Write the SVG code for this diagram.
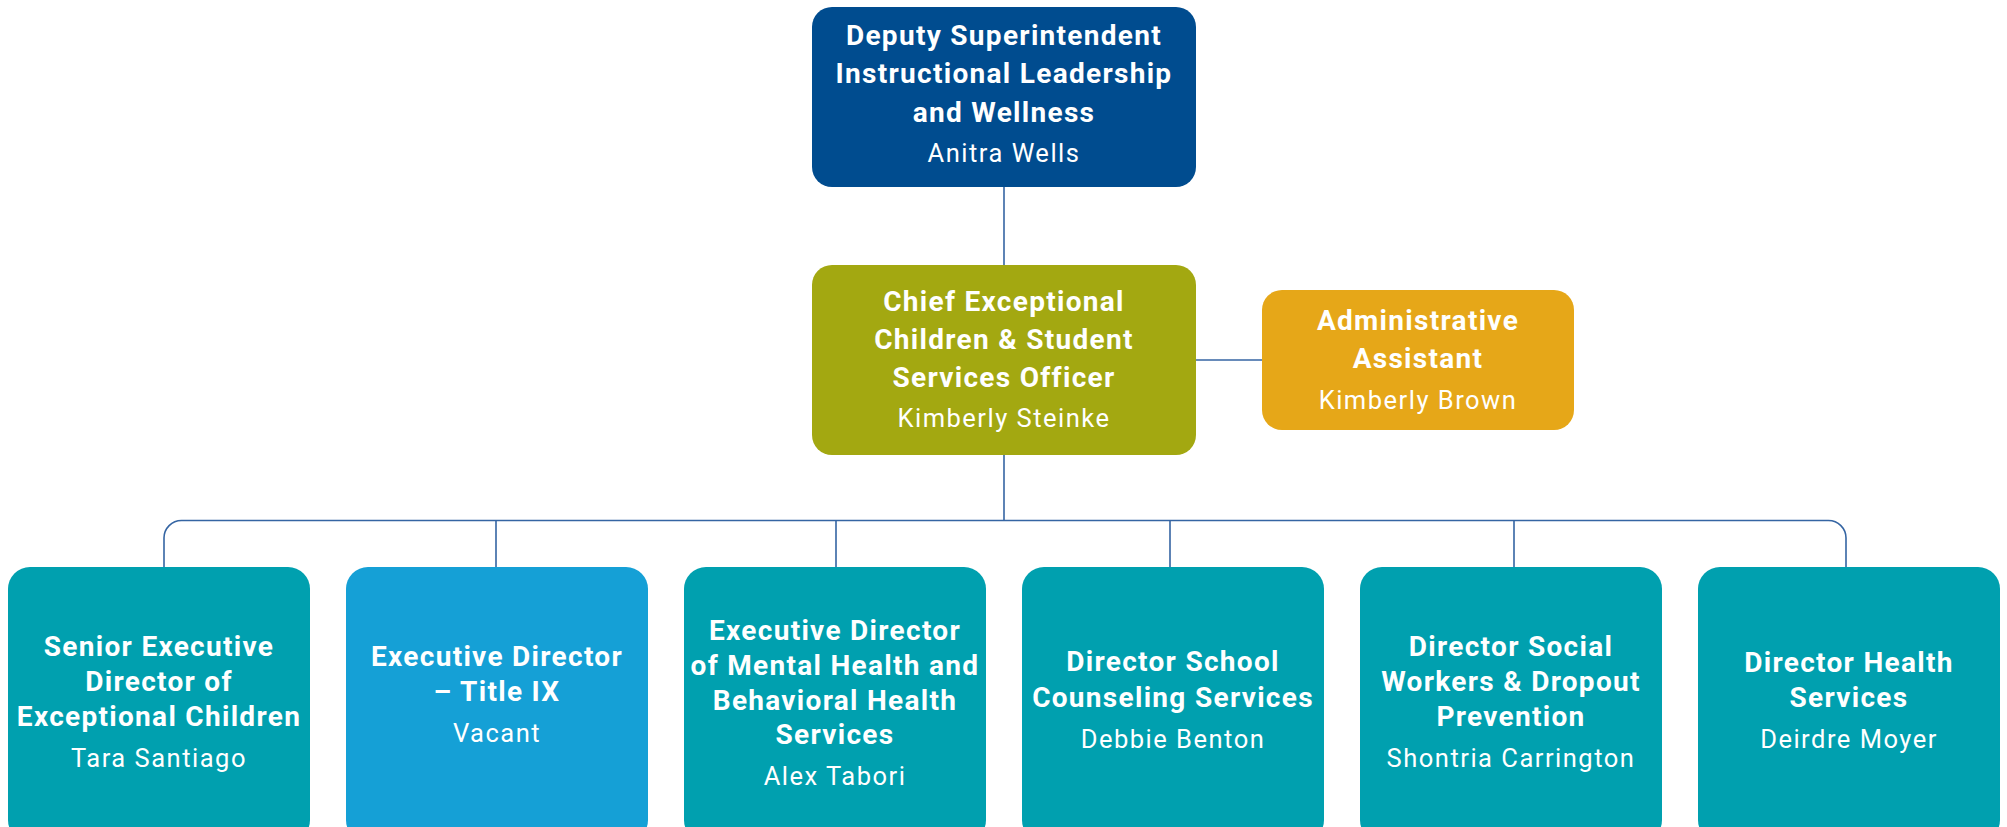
<svg xmlns="http://www.w3.org/2000/svg" width="2007" height="827" viewBox="0 0 2007 827">
<style>
.t{font-family:Roboto,"Liberation Sans",sans-serif;font-weight:700;font-size:28px;letter-spacing:1.3px;fill:#fff;text-anchor:middle}
.n{font-family:Roboto,"Liberation Sans",sans-serif;font-weight:400;font-size:25.5px;letter-spacing:1.5px;fill:#fff;text-anchor:middle}
.c{fill:none;stroke:#3565a3;stroke-width:1.6}
.teal{fill:#00a0af}
</style>
<rect width="2007" height="827" fill="#fff"/>
<g id="connectors">
<path class="c" d="M1004 187V265"/>
<path class="c" d="M1196 360H1262"/>
<path class="c" d="M1004 455V520.5"/>
<path class="c" d="M164 567V538A17.5 17.5 0 0 1 181.5 520.5H1828.5A17.5 17.5 0 0 1 1846 538V567"/>
<path class="c" d="M496 520.5V567M836 520.5V567M1170 520.5V567M1514 520.5V567"/>
</g>
<g id="deputy">
<rect x="812" y="7" width="384" height="180" rx="20" fill="#004c8f"/>
<text class="t" x="1004" y="45">Deputy Superintendent</text>
<text class="t" x="1004" y="83">Instructional Leadership</text>
<text class="t" x="1004" y="122">and Wellness</text>
<text class="n" x="1004" y="162">Anitra Wells</text>
</g>
<g id="chief">
<rect x="812" y="265" width="384" height="190" rx="20" fill="#a3a811"/>
<text class="t" x="1004" y="311">Chief Exceptional</text>
<text class="t" x="1004" y="349">Children &amp; Student</text>
<text class="t" x="1004" y="387">Services Officer</text>
<text class="n" x="1004" y="427">Kimberly Steinke</text>
</g>
<g id="admin">
<rect x="1262" y="290" width="312" height="140" rx="20" fill="#e6a718"/>
<text class="t" x="1418" y="330">Administrative</text>
<text class="t" x="1418" y="368">Assistant</text>
<text class="n" x="1418" y="409">Kimberly Brown</text>
</g>
<g id="senior-exec">
<rect class="teal" x="8" y="567" width="302" height="275" rx="22"/>
<text class="t" x="159" y="656">Senior Executive</text>
<text class="t" x="159" y="691">Director of</text>
<text class="t" x="159" y="726">Exceptional Children</text>
<text class="n" x="159" y="767">Tara Santiago</text>
</g>
<g id="title-ix">
<rect x="346" y="567" width="302" height="275" rx="22" fill="#15a0d6"/>
<text class="t" x="497" y="666">Executive Director</text>
<text class="t" x="497" y="701">– Title IX</text>
<text class="n" x="497" y="742">Vacant</text>
</g>
<g id="mental-health">
<rect class="teal" x="684" y="567" width="302" height="275" rx="22"/>
<text class="t" x="835" y="640">Executive Director</text>
<text class="t" x="835" y="675">of Mental Health and</text>
<text class="t" x="835" y="710">Behavioral Health</text>
<text class="t" x="835" y="744">Services</text>
<text class="n" x="835" y="785">Alex Tabori</text>
</g>
<g id="counseling">
<rect class="teal" x="1022" y="567" width="302" height="275" rx="22"/>
<text class="t" x="1173" y="671">Director School</text>
<text class="t" x="1173" y="707">Counseling Services</text>
<text class="n" x="1173" y="748">Debbie Benton</text>
</g>
<g id="social-workers">
<rect class="teal" x="1360" y="567" width="302" height="275" rx="22"/>
<text class="t" x="1511" y="656">Director Social</text>
<text class="t" x="1511" y="691">Workers &amp; Dropout</text>
<text class="t" x="1511" y="726">Prevention</text>
<text class="n" x="1511" y="767">Shontria Carrington</text>
</g>
<g id="health">
<rect class="teal" x="1698" y="567" width="302" height="275" rx="22"/>
<text class="t" x="1849" y="672">Director Health</text>
<text class="t" x="1849" y="707">Services</text>
<text class="n" x="1849" y="748">Deirdre Moyer</text>
</g>
</svg>
